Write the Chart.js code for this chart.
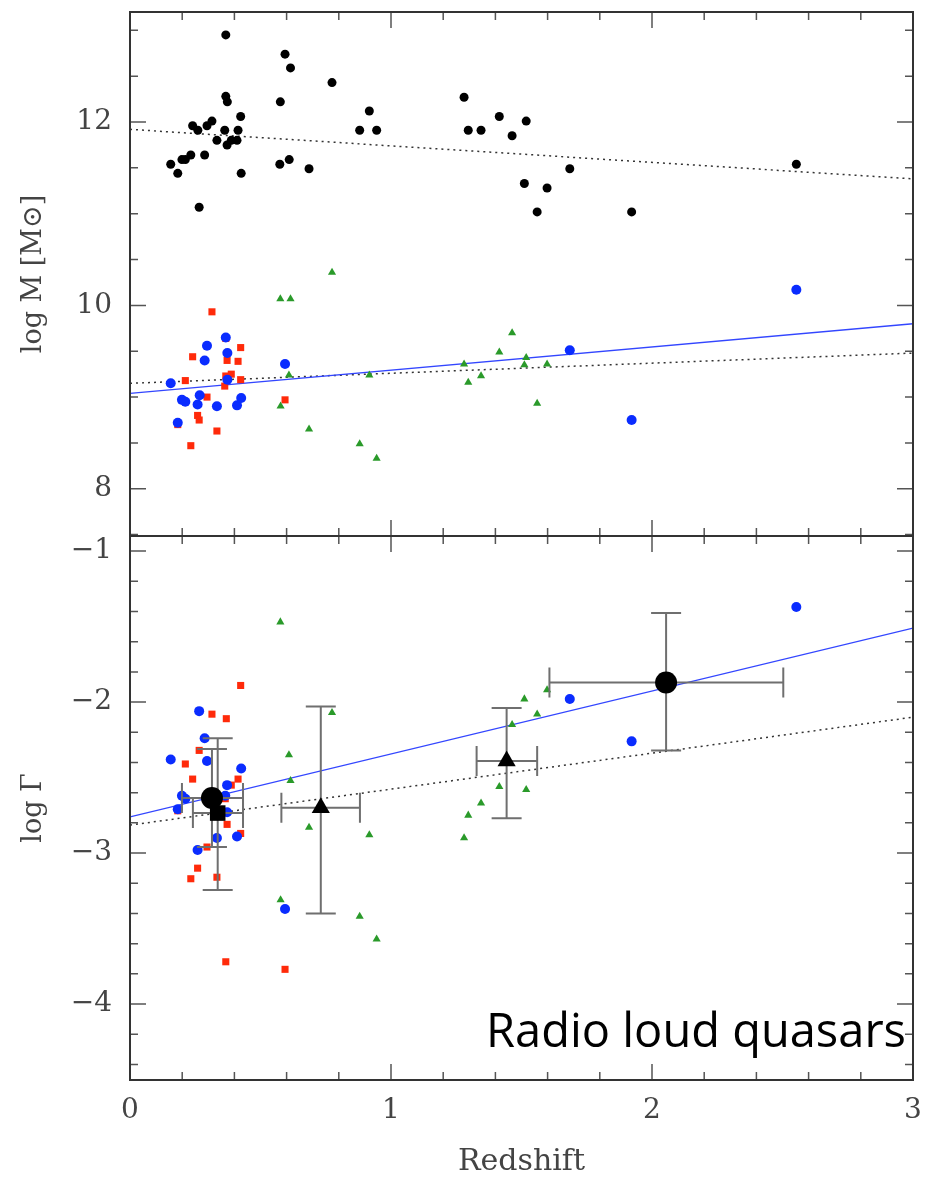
<!DOCTYPE html>
<html>
<head>
<meta charset="utf-8">
<script src="https://cdn.jsdelivr.net/npm/chart.js@4"></script>
<style>
  html, body { margin: 0; padding: 0; background: #fff; }
  #wrap { position: relative; width: 926px; height: 1180px; overflow: hidden; }
  canvas { position: absolute; left: 0; }
  #topChart { top: 0; }
  #botChart { top: 525px; }
  #label { position: absolute; right: 20px; top: 1006px; font-family: 'Open Sans', sans-serif; font-size: 47px; line-height: 1; color: #000; white-space: nowrap; }
</style>
</head>
<body>
<div id="wrap">
  <canvas id="topChart" width="926" height="541"></canvas>
  <canvas id="botChart" width="926" height="655"></canvas>
  <div id="label">Radio loud quasars</div>
</div>
<script>
// ---- top panel: log M ----
const hostZ = [0.156, 0.183, 0.199, 0.212, 0.233, 0.240, 0.260, 0.265, 0.286, 0.295, 0.314, 0.333, 0.363, 0.367, 0.367, 0.373, 0.372, 0.388, 0.410, 0.414, 0.424, 0.426, 0.576, 0.574, 0.594, 0.615, 0.610, 0.686, 0.774, 0.880, 0.917, 0.945, 1.28, 1.296, 1.345, 1.415, 1.464, 1.518, 1.511, 1.598, 1.56, 1.685, 1.922, 2.553];
const hostM = [11.54, 11.44, 11.59, 11.59, 11.64, 11.96, 11.91, 11.07, 11.64, 11.96, 12.01, 11.80, 11.91, 12.95, 12.28, 12.22, 11.75, 11.80, 11.80, 11.91, 12.06, 11.44, 12.22, 11.54, 12.74, 12.59, 11.59, 11.49, 12.43, 11.91, 12.12, 11.91, 12.27, 11.91, 11.91, 12.06, 11.85, 12.01, 11.33, 11.28, 11.02, 11.49, 11.02, 11.54];

const blueZ = [0.156, 0.183, 0.199, 0.212, 0.259, 0.267, 0.286, 0.295, 0.333, 0.367, 0.373, 0.373, 0.410, 0.426, 0.594, 1.685, 1.922, 2.553];
const blueM = [9.15, 8.72, 8.97, 8.95, 8.92, 9.02, 9.40, 9.56, 8.90, 9.65, 9.48, 9.19, 8.91, 8.99, 9.36, 9.51, 8.75, 10.17];

const redZ = [0.212, 0.233, 0.240, 0.259, 0.265, 0.295, 0.314, 0.333, 0.363, 0.367, 0.372, 0.367, 0.388, 0.414, 0.424, 0.424, 0.594, 0.183];
const redM = [9.18, 8.47, 9.44, 8.80, 8.75, 9.00, 9.93, 8.63, 9.12, 9.64, 9.40, 9.23, 9.25, 9.39, 9.54, 9.19, 8.97, 8.70];

const greenZ = [0.576, 0.615, 0.774, 0.609, 0.577, 0.686, 0.880, 0.917, 0.945, 1.28, 1.296, 1.345, 1.415, 1.464, 1.518, 1.511, 1.598, 1.56];
const greenM = [10.07, 10.07, 10.36, 9.24, 8.90, 8.65, 8.49, 9.24, 8.33, 9.36, 9.16, 9.23, 9.49, 9.70, 9.43, 9.35, 9.36, 8.93];

// fit lines, values at z = 0 and z = 3
const fitZ = [0, 3];
const fitHostM = [11.92, 11.38];
const fitBhM = [9.15, 9.48];
const fitBlueM = [9.04, 9.80];

// ---- bottom panel: log Gamma ----
const blueGZ = [0.265, 0.286, 0.156, 0.295, 0.426, 0.372, 0.199, 0.212, 0.365, 0.183, 0.372, 0.333, 0.410, 0.259, 0.594, 1.685, 1.922, 2.553];
const blueG = [-2.06, -2.24, -2.38, -2.39, -2.44, -2.55, -2.62, -2.64, -2.62, -2.71, -2.73, -2.90, -2.89, -2.98, -3.37, -1.98, -2.26, -1.37];

const redGZ = [0.424, 0.314, 0.369, 0.265, 0.212, 0.240, 0.414, 0.388, 0.365, 0.372, 0.183, 0.424, 0.295, 0.259, 0.233, 0.333, 0.367, 0.594];
const redG = [-1.89, -2.08, -2.11, -2.32, -2.41, -2.51, -2.51, -2.55, -2.64, -2.81, -2.72, -2.87, -2.96, -3.10, -3.17, -3.16, -3.72, -3.77];

const greenGZ = [0.576, 0.774, 0.609, 0.615, 0.686, 1.464, 1.415, 1.345, 1.296, 0.917, 1.28, 0.577, 0.880, 0.945, 1.598, 1.511, 1.56, 1.518];
const greenG = [-1.47, -2.07, -2.35, -2.52, -2.83, -2.15, -2.56, -2.67, -2.75, -2.88, -2.90, -3.31, -3.42, -3.57, -1.92, -1.98, -2.08, -2.58];

// binned means with error bars
const binZ = [0.314, 0.336, 0.731, 1.443, 2.054];
const binZlo = [0.199, 0.241, 0.580, 1.328, 1.607];
const binZhi = [0.433, 0.433, 0.881, 1.560, 2.503];
const binG = [-2.635, -2.735, -2.70, -2.39, -1.87];
const binGlo = [-2.96, -3.245, -3.40, -2.77, -2.32];
const binGhi = [-2.31, -2.24, -2.03, -2.04, -1.41];
const binStyle = ['circle', 'rect', 'triangle', 'triangle', 'circle'];

const fitBlueG = [-2.76, -1.51];
const fitAllG = [-2.815, -2.10];

// tick labels
const xTicks = [0, 1, 2, 3];
const mTicks = [8, 10, 12];
const gTicks = [-1, -2, -3, -4];

const serif = 'DejaVu Serif';
const ink = '#444';

const pts = (xs, ys) => xs.map((x, i) => ({x: x, y: ys[i]}));

function dots(xs, ys, color, style, r) {
  return {
    data: pts(xs, ys),
    pointStyle: style,
    pointRadius: r,
    pointHoverRadius: r,
    backgroundColor: color,
    borderColor: color,
    borderWidth: 0,
    showLine: false,
  };
}

function fitLine(ys, color, dash, w) {
  return {
    data: pts(fitZ, ys),
    showLine: true,
    pointRadius: 0,
    borderColor: color,
    borderWidth: w,
    borderDash: dash,
    fill: false,
  };
}

// frame with inward ticks on all four sides
const frameTicks = {
  id: 'frameTicks',
  afterDraw(chart, args, opts) {
    const {ctx, chartArea: a, scales: {x, y}} = chart;
    const loop = (min, max, step, major, fn) => {
      for (let i = Math.ceil(min / step - 1e-6); i * step <= max + 1e-6; i++) {
        const v = i * step;
        const isMajor = Math.abs(v / major - Math.round(v / major)) < 1e-6;
        fn(v, isMajor ? 16 : 8);
      }
    };
    ctx.save();
    ctx.strokeStyle = '#555';
    ctx.lineWidth = 1.5;
    ctx.beginPath();
    loop(x.min, x.max, 0.2, 1, (v, len) => {
      const px = x.getPixelForValue(v);
      ctx.moveTo(px, a.top); ctx.lineTo(px, a.top + len);
      ctx.moveTo(px, a.bottom); ctx.lineTo(px, a.bottom - len);
    });
    loop(y.min, y.max, opts.yMinor, opts.yMajor, (v, len) => {
      const py = y.getPixelForValue(v);
      ctx.moveTo(a.left, py); ctx.lineTo(a.left + len, py);
      ctx.moveTo(a.right, py); ctx.lineTo(a.right - len, py);
    });
    ctx.stroke();
    ctx.strokeStyle = '#333';
    ctx.lineWidth = 2;
    ctx.strokeRect(a.left, a.top, a.right - a.left, a.bottom - a.top);
    ctx.restore();
  }
};

// error bars of the binned points, drawn under the big markers
const errorBars = {
  id: 'errorBars',
  afterDatasetDraw(chart, args) {
    if (args.index !== 1) return;
    const {ctx, scales: {x, y}} = chart;
    const cap = 15;
    ctx.save();
    ctx.strokeStyle = '#6f6f6f';
    ctx.lineWidth = 2;
    binZ.forEach((z, i) => {
      const px = x.getPixelForValue(z), py = y.getPixelForValue(binG[i]);
      const x0 = x.getPixelForValue(binZlo[i]), x1 = x.getPixelForValue(binZhi[i]);
      const y0 = y.getPixelForValue(binGlo[i]), y1 = y.getPixelForValue(binGhi[i]);
      ctx.beginPath();
      ctx.moveTo(x0, py); ctx.lineTo(x1, py);
      ctx.moveTo(x0, py - cap); ctx.lineTo(x0, py + cap);
      ctx.moveTo(x1, py - cap); ctx.lineTo(x1, py + cap);
      ctx.moveTo(px, y0); ctx.lineTo(px, y1);
      ctx.moveTo(px - cap, y0); ctx.lineTo(px + cap, y0);
      ctx.moveTo(px - cap, y1); ctx.lineTo(px + cap, y1);
      ctx.stroke();
    });
    ctx.restore();
  }
};

function yAxis(min, max, ticks, title, fmt) {
  return {
    type: 'linear',
    min: min,
    max: max,
    afterBuildTicks: (s) => { s.ticks = ticks.map(v => ({value: v})); },
    afterFit: (s) => { s.width = 130; s.paddingTop = 0; s.paddingBottom = 0; },
    grid: {display: false, drawTicks: false},
    border: {display: false},
    ticks: {
      color: ink,
      padding: 18,
      font: {family: serif, size: 28},
      callback: fmt,
    },
    title: {
      display: true,
      text: title,
      color: ink,
      font: {family: serif, size: 27},
      padding: {top: 18, bottom: 0},
    },
  };
}

// note: chart.js keeps at least half the biggest marker as padding,
// so the canvases overlap a little to make the two panels touch
const topChart = new Chart(document.getElementById('topChart'), {
  type: 'scatter',
  data: {
    datasets: [
      dots(greenZ, greenM, '#2a9a2a', 'triangle', 4.7),
      dots(blueZ, blueM, '#0a2cff', 'circle', 5),
      dots(redZ, redM, '#ff2a0a', 'rect', 5),
      dots(hostZ, hostM, '#000', 'circle', 4.5),
      fitLine(fitBlueM, '#3346ff', [], 1.3),
      fitLine(fitBhM, '#333', [2, 4], 1.5),
      fitLine(fitHostM, '#333', [2, 4], 1.5),
    ]
  },
  options: {
    responsive: false,
    animation: false,
    events: [],
    layout: {padding: {left: 0, right: 13, top: 12, bottom: 5}},
    plugins: {legend: {display: false}, tooltip: {enabled: false}, frameTicks: {yMinor: 0.5, yMajor: 2}},
    scales: {
      x: {type: 'linear', min: 0, max: 3, display: false},
      y: yAxis(7.485, 13.2, mTicks, 'log M [M\u2299]', (v) => String(v)),
    },
  },
  plugins: [frameTicks],
});

const botChart = new Chart(document.getElementById('botChart'), {
  type: 'scatter',
  data: {
    datasets: [
      {
        data: pts(binZ, binG),
        pointStyle: binStyle,
        pointRadius: [11, 11, 10.5, 10.5, 11],
        pointHoverRadius: [11, 11, 10.5, 10.5, 11],
        backgroundColor: '#000',
        borderColor: '#000',
        borderWidth: 0,
        showLine: false,
      },
      dots(greenGZ, greenG, '#2a9a2a', 'triangle', 4.7),
      dots(blueGZ, blueG, '#0a2cff', 'circle', 5),
      dots(redGZ, redG, '#ff2a0a', 'rect', 5),
      fitLine(fitBlueG, '#3346ff', [], 1.3),
      fitLine(fitAllG, '#333', [2, 4], 1.5),
    ]
  },
  options: {
    responsive: false,
    animation: false,
    events: [],
    layout: {padding: {left: 0, right: 13, top: 0, bottom: 0}},
    plugins: {legend: {display: false}, tooltip: {enabled: false}, frameTicks: {yMinor: 0.2, yMajor: 1}},
    scales: {
      x: {
        type: 'linear',
        min: 0,
        max: 3,
        afterBuildTicks: (s) => { s.ticks = xTicks.map(v => ({value: v})); },
        afterFit: (s) => { s.height = 100; s.paddingLeft = 0; s.paddingRight = 0; },
        grid: {display: false, drawTicks: false},
        border: {display: false},
        ticks: {color: ink, padding: 14, maxRotation: 0, font: {family: serif, size: 28}},
        title: {
          display: true,
          text: 'Redshift',
          color: ink,
          font: {family: serif, size: 30},
          padding: {top: 0, bottom: 0},
        },
      },
      y: yAxis(-4.503, -0.9, gTicks, 'log \u0393', (v) => '\u2212' + Math.abs(v)),
    },
  },
  plugins: [frameTicks, errorBars],
});
</script>
</body>
</html>
